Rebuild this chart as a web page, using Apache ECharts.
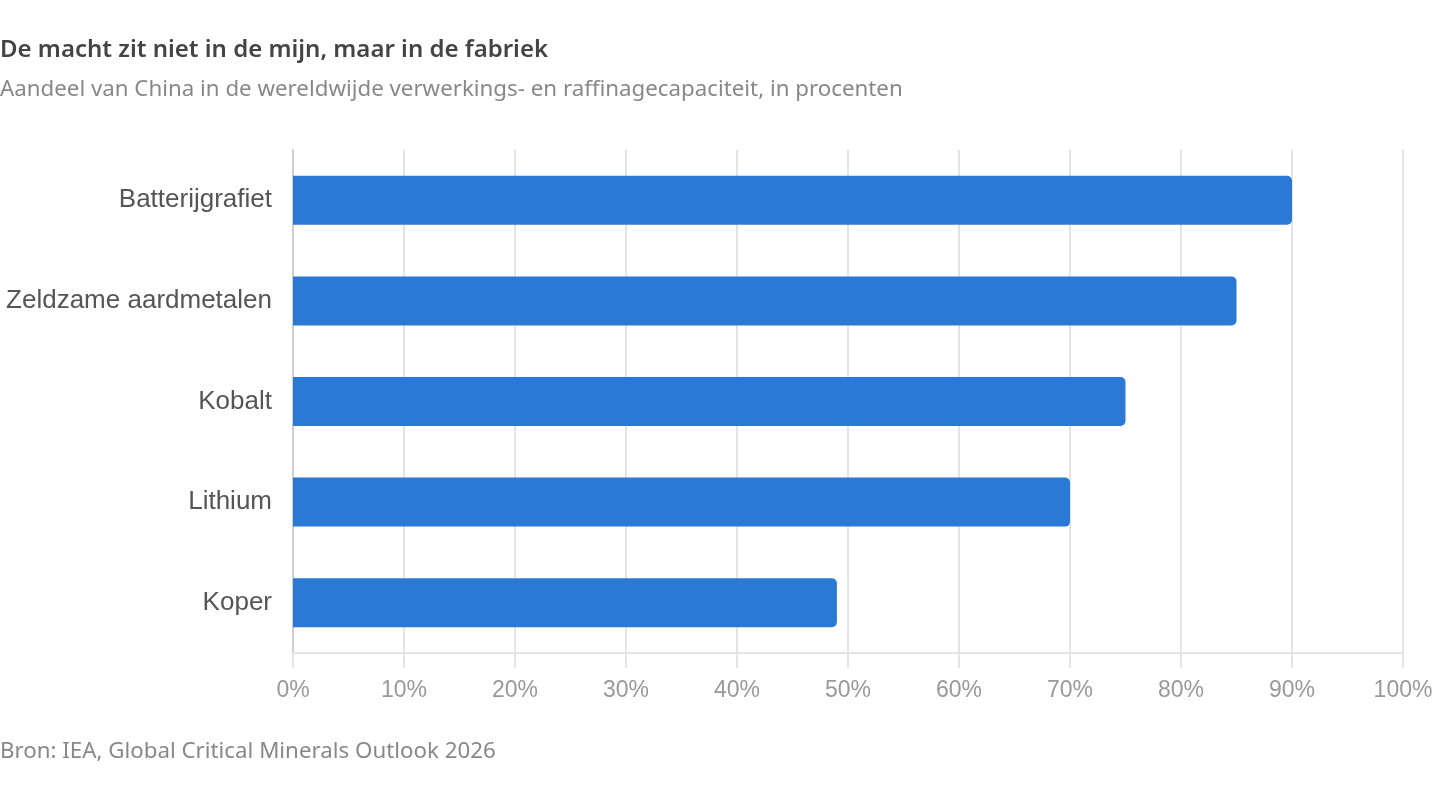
<!DOCTYPE html>
<html><head><meta charset="utf-8">
<script src="https://cdn.jsdelivr.net/npm/echarts@6/dist/echarts.min.js"></script>
<style>html,body{margin:0;padding:0;background:#fff}#c{width:1440px;height:796px}</style>
</head><body><div id="c"></div>
<script>
const titleText = 'De macht zit niet in de mijn, maar in de fabriek';
const subtitleText = 'Aandeel van China in de wereldwijde verwerkings- en raffinagecapaciteit, in procenten';
const sourceText = 'Bron: IEA, Global Critical Minerals Outlook 2026';
const categories = ['Batterijgrafiet', 'Zeldzame aardmetalen', 'Kobalt', 'Lithium', 'Koper'];
const shareValues = [90, 85, 75, 70, 49];
const xTicks = [0, 10, 20, 30, 40, 50, 60, 70, 80, 90, 100];

const chart = echarts.init(document.getElementById('c'), null, {renderer: 'canvas'});
chart.setOption({
  animation: false,
  title: [
    {text: titleText, left: 0, top: 38, padding: 0,
     textStyle: {fontFamily: 'Noto Sans', fontSize: 24, fontWeight: 600, color: '#444'}},
    {text: subtitleText, left: 0, top: 79, padding: 0,
     textStyle: {fontFamily: 'Noto Sans', fontSize: 22.3, fontWeight: 'normal', color: '#888'}},
    {text: sourceText, left: 0, top: 741, padding: 0,
     textStyle: {fontFamily: 'Noto Sans', fontSize: 22.3, fontWeight: 'normal', color: '#888'}}
  ],
  grid: {left: 293, right: 37, top: 150, bottom: 143, containLabel: false},
  xAxis: {
    type: 'value', min: xTicks[0], max: xTicks[xTicks.length - 1], interval: 10,
    axisLine: {show: true, lineStyle: {color: '#e4e4e2', width: 2}},
    axisTick: {show: true, length: 15, lineStyle: {color: '#e4e4e2', width: 2}},
    splitLine: {show: true, lineStyle: {color: '#e4e4e2', width: 2}},
    axisLabel: {formatter: v => v + '%', margin: 26, fontFamily: 'Liberation Sans', fontSize: 23, color: '#999'}
  },
  yAxis: {
    type: 'category', inverse: true, data: categories,
    axisLine: {show: true, lineStyle: {color: '#cfcfcf', width: 2}},
    axisTick: {show: false},
    axisLabel: {margin: 21, fontFamily: 'Liberation Sans', fontSize: 26, color: '#555'}
  },
  series: [{
    type: 'bar', data: shareValues, barWidth: 49,
    itemStyle: {color: '#2979d5', borderRadius: [0, 5, 5, 0]}
  }]
});
</script></body></html>
